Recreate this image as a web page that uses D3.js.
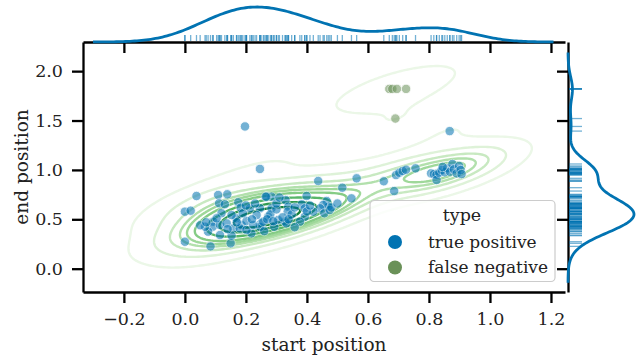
<!DOCTYPE html>
<html>
<head>
<meta charset="utf-8">
<script src="https://cdn.jsdelivr.net/npm/d3@7"></script>
<style>
  body { margin: 0; background: #fff; }
  text { font-family: "DejaVu Serif", serif; fill: #222; }
</style>
</head>
<body>
<svg id="chart" width="636" height="362"></svg>
<script>
// true positives: start / end positions
const tpStart = [0.197, 0.246, 0.868,
  0.652, 0.686, 0.692, 0.703, 0.714, 0.725, 0.756, 0.807, 0.816, 0.825, 0.825, 0.834, 0.842, 0.852, 0.860, 0.869, 0.877, 0.882, 0.891, 0.899, 0.904, 0.907, 0.845,
  0.437, 0.563, 0.516, 0.546, 0.399, 0.465, 0.470, 0.453, 0.443, 0.457, 0.475, 0.383, 0.393, 0.421, 0.393, 0.377, 0.330, 0.339, 0.337, 0.284, 0.268, 0.284, 0.273, 0.293, 0.328, 0.333, 0.306, 0.250,
  0.038, 0.000, 0.019, 0.000, 0.084, 0.150, 0.109, 0.139, 0.112, 0.131, 0.175, 0.183, 0.213, 0.246, 0.265, 0.120, 0.093, 0.091, 0.115, 0.137, 0.159, 0.186, 0.202, 0.218, 0.153, 0.115, 0.076, 0.066, 0.246, 0.235, 0.169, 0.153, 0.180, 0.202, 0.224, 0.257, 0.104,
  0.280, 0.300, 0.320, 0.350, 0.360, 0.270, 0.220, 0.190, 0.200, 0.230, 0.300, 0.310, 0.360, 0.400, 0.410, 0.260, 0.140, 0.170, 0.290, 0.340, 0.480, 0.500, 0.050, 0.070];
const tpEnd = [1.440, 1.010, 1.393,
  0.885, 0.786, 0.948, 0.972, 0.989, 1.002, 1.016, 0.965, 0.958, 0.951, 0.898, 0.972, 0.999, 0.976, 1.016, 0.982, 1.060, 1.006, 0.965, 1.040, 0.999, 0.958, 1.030,
  0.888, 0.915, 0.820, 0.712, 0.736, 0.685, 0.628, 0.645, 0.611, 0.561, 0.594, 0.652, 0.611, 0.577, 0.526, 0.476, 0.695, 0.628, 0.577, 0.729, 0.729, 0.611, 0.526, 0.425, 0.476, 0.459, 0.493, 0.459,
  0.736, 0.577, 0.587, 0.273, 0.226, 0.257, 0.746, 0.753, 0.662, 0.652, 0.672, 0.617, 0.611, 0.611, 0.729, 0.561, 0.476, 0.425, 0.442, 0.459, 0.408, 0.442, 0.483, 0.358, 0.334, 0.341, 0.375, 0.425, 0.425, 0.543, 0.510, 0.543, 0.408, 0.392, 0.442, 0.476, 0.510,
  0.550, 0.600, 0.520, 0.550, 0.620, 0.500, 0.500, 0.560, 0.640, 0.660, 0.660, 0.720, 0.420, 0.580, 0.640, 0.380, 0.400, 0.470, 0.480, 0.500, 0.620, 0.660, 0.440, 0.470];

// false negatives
const fnStart = [0.670, 0.680, 0.695, 0.725, 0.690];
const fnEnd = [1.820, 1.820, 1.820, 1.820, 1.520];

const typeLabels = ["true positive", "false negative"];
const typeColors = ["#0173b2", "#6a9158"];
const xTicks = [-0.2, 0.0, 0.2, 0.4, 0.6, 0.8, 1.0, 1.2];
const yTicks = [0.0, 0.5, 1.0, 1.5, 2.0];

const svg = d3.select("#chart");
const pL = 83, pR = 565, pT = 42, pB = 292;
const margX = 568;

const x = d3.scaleLinear().domain([-0.334, 1.246]).range([pL, pR]);
const y = d3.scaleLinear().domain([-0.236, 2.295]).range([pB, pT]);

const pts = tpStart.map((s, i) => ({s, e: tpEnd[i], t: 0}))
  .concat(fnStart.map((s, i) => ({s, e: fnEnd[i], t: 1})));
const allS = pts.map(d => d.s), allE = pts.map(d => d.e);
const n = pts.length;

// bivariate gaussian kde (scott factor, full covariance)
const mS = d3.mean(allS), mE = d3.mean(allE);
let cxx = 0, cyy = 0, cxy = 0;
pts.forEach(d => {
  cxx += (d.s - mS) ** 2; cyy += (d.e - mE) ** 2; cxy += (d.s - mS) * (d.e - mE);
});
cxx /= n - 1; cyy /= n - 1; cxy /= n - 1;
const f2 = Math.pow(n, -2 / 6);
const kxx = cxx * f2, kyy = cyy * f2, kxy = cxy * f2;
const det = kxx * kyy - kxy * kxy;
const ixx = kyy / det, iyy = kxx / det, ixy = -kxy / det;

const nx = 200, ny = 200;
const gx0 = d3.min(allS) - 3 * Math.sqrt(kxx), gx1 = d3.max(allS) + 3 * Math.sqrt(kxx);
const gy0 = d3.min(allE) - 3 * Math.sqrt(kyy), gy1 = d3.max(allE) + 3 * Math.sqrt(kyy);
const dx = (gx1 - gx0) / (nx - 1), dy = (gy1 - gy0) / (ny - 1);
const grid = new Float64Array(nx * ny);
for (let j = 0; j < ny; j++) {
  const gy = gy0 + j * dy;
  for (let i = 0; i < nx; i++) {
    const gx = gx0 + i * dx;
    let v = 0;
    for (const d of pts) {
      const a = gx - d.s, b = gy - d.e;
      v += Math.exp(-0.5 * (a * a * ixx + 2 * a * b * ixy + b * b * iyy));
    }
    grid[j * nx + i] = v;
  }
}

// iso-proportion levels like seaborn
const sorted = Array.from(grid).sort((a, b) => b - a);
const total = d3.sum(sorted);
const cum = [];
let acc = 0;
for (const v of sorted) { acc += v; cum.push(acc / total); }
const gmax = sorted[0];
const levels = d3.range(10).map(k => 0.05 + k * 0.95 / 9)
  .map(p => sorted[Math.min(d3.bisectLeft(cum, 1 - p), sorted.length - 1)])
  .filter(v => v < gmax);
const lvColor = d3.scaleLinear().domain([levels[0], levels[levels.length - 1]]).range([0.08, 0.8]);

const toData = d3.geoTransform({
  point(px, py) {
    this.stream.point(x(gx0 + (px - 0.5) * dx), y(gy0 + (py - 0.5) * dy));
  }
});
const contourPath = d3.geoPath(toData);
const contours = d3.contours().size([nx, ny]).thresholds(levels)(grid);

svg.append("defs").append("clipPath").attr("id", "plotclip")
  .append("rect").attr("x", pL).attr("y", pT)
  .attr("width", pR - pL).attr("height", pB - pT);

const plot = svg.append("g").attr("clip-path", "url(#plotclip)");
plot.selectAll("path.kde")
  .data(contours)
  .join("path")
  .attr("class", "kde")
  .attr("d", contourPath)
  .attr("fill", "none")
  .attr("stroke", d => d3.interpolateGreens(lvColor(d.value)))
  .attr("stroke-width", 2.4);

plot.selectAll("circle.pt")
  .data(pts)
  .join("circle")
  .attr("class", "pt")
  .attr("cx", d => x(d.s))
  .attr("cy", d => y(d.e))
  .attr("r", 4.7)
  .attr("fill", d => typeColors[d.t])
  .attr("stroke", "#fff")
  .attr("stroke-width", 0.8)
  .attr("opacity", 0.55);

// axes
function styleAxis(g) {
  g.select(".domain").attr("stroke", "#000").attr("stroke-width", 2.3);
  g.selectAll(".tick line").attr("stroke", "#000").attr("stroke-width", 2.3);
  g.selectAll(".tick text").attr("font-size", 17.5).attr("fill", "#222")
    .attr("font-family", "DejaVu Serif, serif");
}
const fmt = d3.format(".1f");
svg.append("g").attr("transform", `translate(0,${pB})`)
  .call(d3.axisBottom(x).tickValues(xTicks).tickFormat(fmt).tickSize(11).tickSizeOuter(0).tickPadding(10))
  .call(styleAxis);
svg.append("g").attr("transform", `translate(${pL},0)`)
  .call(d3.axisLeft(y).tickValues(yTicks).tickFormat(fmt).tickSize(11).tickSizeOuter(0).tickPadding(9))
  .call(styleAxis);
// marginal axes (no labels)
svg.append("g").attr("transform", `translate(0,${pT})`)
  .call(d3.axisBottom(x).tickValues(xTicks).tickFormat("").tickSize(11).tickSizeOuter(0))
  .call(styleAxis);
svg.append("g").attr("transform", `translate(${margX},0)`)
  .call(d3.axisLeft(y).tickValues(yTicks).tickFormat("").tickSize(11).tickSizeOuter(0))
  .call(styleAxis);

svg.append("text").attr("x", (pL + pR) / 2).attr("y", 351)
  .attr("text-anchor", "middle").attr("font-size", 18.5).text("start position");
svg.append("text").attr("transform", `translate(28,${(pT + pB) / 2}) rotate(-90)`)
  .attr("text-anchor", "middle").attr("font-size", 18.5).text("end position");

// marginal kdes
function kde1(vals, steps) {
  const sd = d3.deviation(vals);
  const bw = sd * Math.pow(vals.length, -1 / 5);
  const lo = d3.min(vals) - 3 * bw, hi = d3.max(vals) + 3 * bw;
  return d3.range(steps).map(k => {
    const v = lo + (hi - lo) * k / (steps - 1);
    const dens = d3.sum(vals, u => Math.exp(-0.5 * ((v - u) / bw) ** 2)) / (vals.length * bw * Math.sqrt(2 * Math.PI));
    return [v, dens];
  });
}
const blue = typeColors[0];
const kx = kde1(allS, 200);
const dxs = d3.scaleLinear().domain([0, d3.max(kx, d => d[1])]).range([pT, 7]);
svg.append("path").datum(kx)
  .attr("d", d3.line().x(d => x(d[0])).y(d => dxs(d[1])))
  .attr("fill", "none").attr("stroke", blue).attr("stroke-width", 2.8);
svg.append("g").selectAll("line").data(allS).join("line")
  .attr("x1", d => x(d)).attr("x2", d => x(d))
  .attr("y1", pT - 1).attr("y2", pT - 7)
  .attr("stroke", blue).attr("stroke-width", 1.3).attr("stroke-opacity", 0.55);

const ky = kde1(allE, 200);
const dys = d3.scaleLinear().domain([0, d3.max(ky, d => d[1])]).range([margX, 634]);
svg.append("path").datum(ky)
  .attr("d", d3.line().x(d => dys(d[1])).y(d => y(d[0])))
  .attr("fill", "none").attr("stroke", blue).attr("stroke-width", 2.8);
svg.append("g").selectAll("line").data(allE).join("line")
  .attr("y1", d => y(d)).attr("y2", d => y(d))
  .attr("x1", margX + 1).attr("x2", margX + 14)
  .attr("stroke", blue).attr("stroke-width", 1.3).attr("stroke-opacity", 0.55);

// legend
const lg = svg.append("g").attr("transform", "translate(370,200.5)");
lg.append("rect").attr("width", 185).attr("height", 81).attr("rx", 4)
  .attr("fill", "#fff").attr("fill-opacity", 0.8)
  .attr("stroke", "#ccc").attr("stroke-width", 1.2);
lg.append("text").attr("x", 92).attr("y", 20).attr("text-anchor", "middle")
  .attr("font-size", 17.5).text("type");
const items = lg.selectAll("g.item").data(typeLabels).join("g")
  .attr("class", "item")
  .attr("transform", (d, i) => `translate(0,${41.5 + i * 25.5})`);
items.append("circle").attr("cx", 25).attr("r", 7)
  .attr("fill", (d, i) => typeColors[i]);
items.append("text").attr("x", 58).attr("y", 5.5)
  .attr("font-size", 17).text(d => d);
</script>
</body>
</html>
